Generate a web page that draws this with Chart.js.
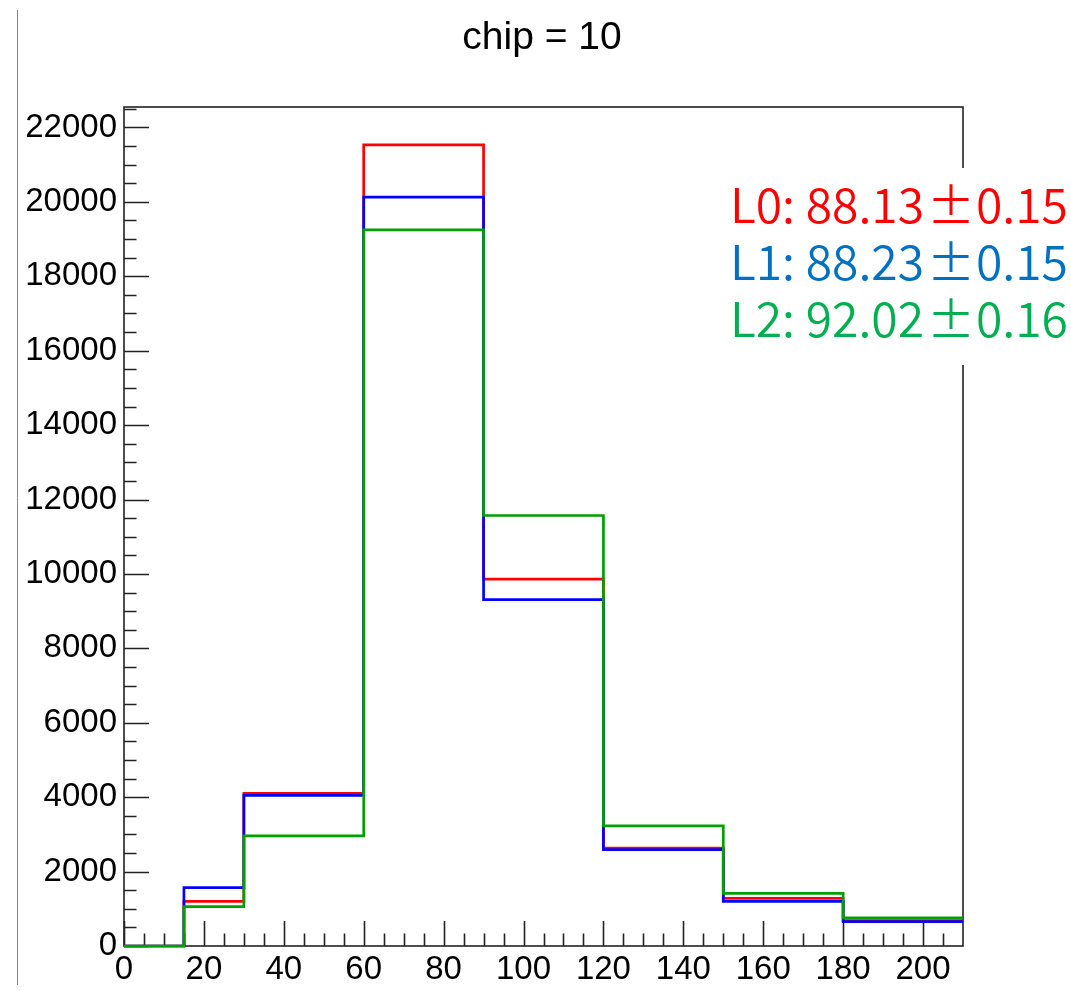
<!DOCTYPE html>
<html>
<head>
<meta charset="utf-8">
<title>chip = 10</title>
<script src="https://cdn.jsdelivr.net/npm/chart.js@4.4.1/dist/chart.umd.min.js"></script>
<style>
  html, body { margin: 0; padding: 0; background: #ffffff; }
  canvas { display: block; }
</style>
</head>
<body>
<canvas id="grafico" width="1071" height="991"></canvas>
<script>
// ===============================
// DADOS
// ===============================
const titulo = 'chip = 10';
const binEdges = [0, 15, 30, 60, 90, 120, 150, 180, 210];
const countsL0 = [0, 1200, 4100, 21530, 9860, 2630, 1280, 680];
const countsL1 = [0, 1570, 4050, 20130, 9310, 2590, 1200, 655];
const countsL2 = [0, 1060, 2960, 19250, 11570, 3230, 1415, 755];
const seriesNames = ['L0', 'L1', 'L2'];
const fitMeans = ['88.13', '88.23', '92.02'];
const fitErrors = ['0.15', '0.15', '0.16'];
const xTicks = [0, 20, 40, 60, 80, 100, 120, 140, 160, 180, 200];
const yTicks = [0, 2000, 4000, 6000, 8000, 10000, 12000, 14000, 16000, 18000, 20000, 22000];
const xMax = 210;
const yMax = 22550;

const lineColors = ['#ff0000', '#0000ff', '#00a000'];
const textColors = ['#ff0000', '#0070c0', '#00b050'];

// histograma em degraus: cada borda esquerda recebe o valor do bin, e a borda final repete o último
function degraus(counts) {
  const pts = counts.map((v, i) => ({ x: binEdges[i], y: v }));
  pts.push({ x: binEdges[binEdges.length - 1], y: counts[counts.length - 1] });
  return pts;
}

const FONT_AXIS = '"Liberation Sans", Arial, Helvetica, sans-serif';

// ===============================
// MOLDURA, TICKS E LEGENDA
// ===============================
const molduraPlugin = {
  id: 'moldura',
  beforeDatasetsDraw(chart) {
    const { ctx, chartArea: a, scales } = chart;
    const xs = scales.x, ys = scales.y;
    ctx.save();
    ctx.strokeStyle = '#222';
    ctx.lineWidth = 1.6;
    ctx.strokeRect(a.left, a.top, a.right - a.left, a.bottom - a.top);

    ctx.beginPath();
    // ticks do eixo y, para dentro
    for (let v = 0; v <= yMax; v += 500) {
      const py = Math.round(ys.getPixelForValue(v)) + 0.5;
      const len = v % 2000 === 0 ? 25 : 12.5;
      ctx.moveTo(a.left, py);
      ctx.lineTo(a.left + len, py);
    }
    // ticks do eixo x, para cima
    for (let v = 0; v < xMax; v += 5) {
      const px = Math.round(xs.getPixelForValue(v)) + 0.5;
      const len = v % 20 === 0 ? 25 : 12.5;
      ctx.moveTo(px, a.bottom);
      ctx.lineTo(px, a.bottom - len);
    }
    ctx.stroke();

    // linha cinza solta à esquerda
    ctx.strokeStyle = '#888';
    ctx.lineWidth = 1;
    ctx.beginPath();
    ctx.moveTo(17.5, 10);
    ctx.lineTo(17.5, 985);
    ctx.stroke();
    ctx.restore();
  },
  afterDraw(chart) {
    const { ctx } = chart;
    ctx.save();
    // título
    ctx.fillStyle = '#000';
    ctx.font = '39px ' + FONT_AXIS;
    ctx.textAlign = 'center';
    ctx.textBaseline = 'alphabetic';
    ctx.fillText(titulo, 542, 49);

    // caixa branca da legenda
    ctx.fillStyle = '#fff';
    ctx.fillRect(722, 168, 349, 197);

    ctx.font = '350 48px "Noto Sans CJK JP", "Noto Sans", sans-serif';
    seriesNames.forEach((nome, i) => {
      const base = 223 + i * 57;
      ctx.fillStyle = textColors[i];
      ctx.textAlign = 'right';
      ctx.fillText(nome + ': ' + fitMeans[i], 924, base);
      ctx.textAlign = 'center';
      ctx.fillText('±', 951, base);
      ctx.textAlign = 'left';
      ctx.fillText(fitErrors[i], 976, base);
    });
    ctx.restore();
  }
};

// ===============================
// GRÁFICO
// ===============================
const canvas = document.getElementById('grafico');

const datasets = [countsL0, countsL1, countsL2].map((counts, i) => ({
  label: seriesNames[i],
  data: degraus(counts),
  borderColor: lineColors[i],
  borderWidth: 2.7,
  pointRadius: 0,
  fill: false,
  stepped: 'before',
  tension: 0,
  clip: 6,
  order: 2 - i
}));

new Chart(canvas, {
  type: 'line',
  data: { datasets },
  options: {
    responsive: false,
    animation: false,
    events: [],
    layout: { padding: { top: 107, right: 108, left: 0, bottom: 0 } },
    plugins: {
      legend: { display: false },
      tooltip: { enabled: false },
      title: { display: false }
    },
    scales: {
      x: {
        type: 'linear',
        min: 0,
        max: xMax,
        grid: { display: false, drawTicks: false, tickLength: 0 },
        border: { display: false },
        afterBuildTicks: s => { s.ticks = xTicks.map(v => ({ value: v })); },
        ticks: {
          maxRotation: 0,
          autoSkip: false,
          padding: 4,
          color: '#000',
          font: { family: FONT_AXIS, size: 33 },
          callback: v => String(v)
        },
        afterFit: s => { s.height = 45; }
      },
      y: {
        type: 'linear',
        min: 0,
        max: yMax,
        grid: { display: false, drawTicks: false, tickLength: 0 },
        border: { display: false },
        afterBuildTicks: s => { s.ticks = yTicks.map(v => ({ value: v })); },
        ticks: {
          autoSkip: false,
          padding: 7,
          color: '#000',
          font: { family: FONT_AXIS, size: 33 },
          callback: v => String(v)
        },
        afterFit: s => { s.width = 124; }
      }
    }
  },
  plugins: [molduraPlugin]
});
</script>
</body>
</html>
